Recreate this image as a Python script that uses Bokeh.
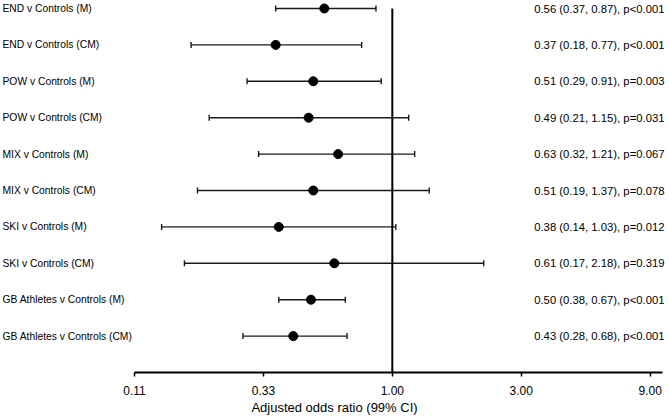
from bokeh.plotting import figure
from bokeh.models import (ColumnDataSource, Whisker, TeeHead,
                          FixedTicker, PrintfTickFormatter, Range1d)
from bokeh.core.properties import value
from bokeh.embed import file_html
from bokeh.resources import INLINE

# ---- data ----
labels = ["END v Controls (M)", "END v Controls (CM)",
          "POW v Controls (M)", "POW v Controls (CM)",
          "MIX v Controls (M)", "MIX v Controls (CM)",
          "SKI v Controls (M)", "SKI v Controls (CM)",
          "GB Athletes v Controls (M)", "GB Athletes v Controls (CM)"]
odds = [0.56, 0.37, 0.51, 0.49, 0.63, 0.51, 0.38, 0.61, 0.50, 0.43]
lower = [0.37, 0.18, 0.29, 0.21, 0.32, 0.19, 0.14, 0.17, 0.38, 0.28]
upper = [0.87, 0.77, 0.91, 1.15, 1.21, 1.37, 1.03, 2.18, 0.67, 0.68]
pvals = ["p<0.001", "p<0.001", "p=0.003", "p=0.031", "p=0.067",
         "p=0.078", "p=0.012", "p=0.319", "p<0.001", "p<0.001"]
tick_values = [1 / 9, 1 / 3, 1.0, 3.0, 9.0]
axis_bounds = (1 / 9, 10.0)
reference = 1.0
axis_title = "Adjusted odds ratio (99% CI)"

n = len(labels)
ypos = [n - i for i in range(n)]
stats = [f"{o:.2f} ({l:.2f}, {u:.2f}), {p}" for o, l, u, p in zip(odds, lower, upper, pvals)]

# layout: the axis spans 134px..662px of a 668px-wide frame (log scale)
W, H = 668, 417
ax_left_px, ax_right_px = 134, 662
span = (ax_right_px - ax_left_px)
ratio = axis_bounds[1] / axis_bounds[0]
x_start = axis_bounds[0] / ratio ** (ax_left_px / span)
x_end = axis_bounds[1] * ratio ** ((W - ax_right_px) / span)

src = ColumnDataSource(dict(y=ypos, odds=odds, lower=lower, upper=upper,
                            label=labels, stats=stats))

FONT = "Liberation Sans"

p = figure(width=W, height=H, x_axis_type="log",
           x_range=Range1d(x_start, x_end), y_range=Range1d(0, n + 0.22),
           y_axis_location=None, toolbar_location=None, output_backend="svg",
           min_border_left=0, min_border_right=0, min_border_top=0,
           min_border_bottom=0)
p.outline_line_color = None
p.xgrid.visible = False
p.ygrid.visible = False
p.background_fill_color = "white"
p.border_fill_color = "white"

# x axis
ax = p.xaxis[0]
ax.bounds = axis_bounds
ax.ticker = FixedTicker(ticks=tick_values, minor_ticks=[])
ax.formatter = PrintfTickFormatter(format="%.2f")
ax.axis_label = axis_title
ax.axis_label_text_font = FONT
ax.axis_label_text_font_size = "13px"
ax.axis_label_text_font_style = "normal"
ax.axis_label_text_color = "black"
ax.axis_label_standoff = 2
ax.major_label_text_font = FONT
ax.major_label_text_font_size = "12px"
ax.major_label_text_color = "black"
ax.major_label_standoff = 9
ax.axis_line_color = "black"
ax.axis_line_width = 1.8
ax.major_tick_line_color = "black"
ax.major_tick_line_width = 1.5
ax.major_tick_in = 0
ax.major_tick_out = 4

# reference line at OR = 1
p.segment(x0=[reference], y0=[0], x1=[reference], y1=[n],
          line_color="black", line_width=2)

# confidence intervals
whisk = Whisker(source=src, base="y", lower="lower", upper="upper",
                dimension="width", line_color="#1a1a1a", line_width=1.4,
                lower_head=TeeHead(size=6, line_color="#1a1a1a", line_width=1.4),
                upper_head=TeeHead(size=6, line_color="#1a1a1a", line_width=1.4))
p.add_layout(whisk)

# point estimates
p.scatter(x="odds", y="y", source=src, size=9, color="black")

# row labels on the left
p.text(x=x_start, y="y", text="label", source=src, x_offset=2,
       text_align="left", text_baseline="middle",
       text_font=value(FONT), text_font_size="10.3px", text_color="black")

# statistics on the right
p.text(x=x_end, y="y", text="stats", source=src, x_offset=-4,
       text_align="right", text_baseline="middle",
       text_font=value(FONT), text_font_size="11.3px", text_color="black")

open("out.html", "w").write(file_html(p, INLINE))
